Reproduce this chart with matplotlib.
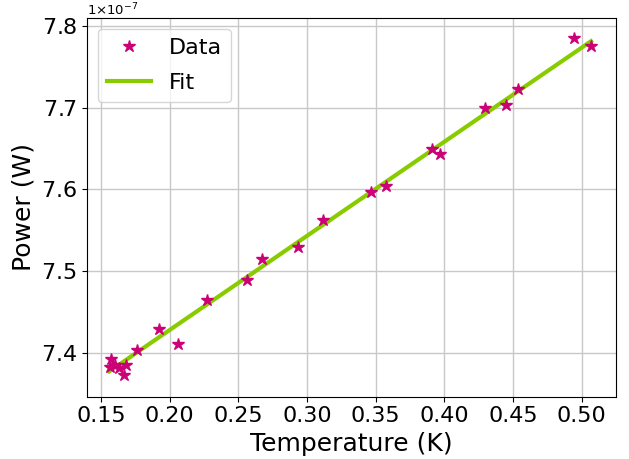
import matplotlib
matplotlib.use("Agg")
import matplotlib.pyplot as plt
import numpy as np

temperature = [0.1573, 0.1565, 0.1602, 0.1633, 0.1680, 0.1670, 0.1760, 0.1922,
               0.2063, 0.2270, 0.2566, 0.2675, 0.2932, 0.3119, 0.3464, 0.3573,
               0.3908, 0.3969, 0.4298, 0.4448, 0.4537, 0.4946, 0.5068]
power_e7 = [7.3935, 7.3832, 7.3862, 7.3820, 7.3853, 7.3733, 7.4037, 7.4302,
            7.4119, 7.4649, 7.4894, 7.5147, 7.5294, 7.5628, 7.5974, 7.6044,
            7.6497, 7.6432, 7.6995, 7.7032, 7.7231, 7.7852, 7.7749]

fit_T = [0.1561, 0.5068]
fit_P_e7 = [7.3780, 7.7810]

T = np.array(temperature)
P = np.array(power_e7) * 1e-7
fT = np.array(fit_T)
fP = np.array(fit_P_e7) * 1e-7

fig = plt.figure(figsize=(6.29, 4.59), dpi=100)
L, R, TOP, B = 86.7, 616, 17.5, 396.7
ax = fig.add_axes([L/629, 1-B/459, (R-L)/629, (B-TOP)/459])
ax.plot(T, P, '*', color='#CC0077', markersize=9, label='Data', zorder=3)
ax.plot(fT, fP, '-', color='#88CC00', linewidth=3, label='Fit', zorder=2)
ax.grid(True, color='#c8c8c8', linewidth=1)
ax.set_axisbelow(True)
ax.set_xlim(0.1396, 0.5250)
ax.set_ylim(7.347e-7, 7.810e-7)
ax.set_xticks([0.15, 0.20, 0.25, 0.30, 0.35, 0.40, 0.45, 0.50])
ax.set_yticks(np.array([7.4, 7.5, 7.6, 7.7, 7.8]) * 1e-7)
ax.ticklabel_format(axis='y', style='sci', scilimits=(-7, -7), useMathText=True)
ax.yaxis.get_offset_text().set_visible(False)
ax.text(0.0, (B - 15.5) / (B - TOP), r'$1{\times}10^{-7}$', transform=ax.transAxes,
        fontsize=9.5, ha='left', va='baseline')
ax.tick_params(labelsize=16)
ax.set_xlabel('Temperature (K)', fontsize=18)
ax.set_ylabel('Power (W)', fontsize=18)
ax.legend(fontsize=16, loc='upper left', borderaxespad=0.5, labelspacing=0.7)
fig.savefig('out.png', dpi=100)
